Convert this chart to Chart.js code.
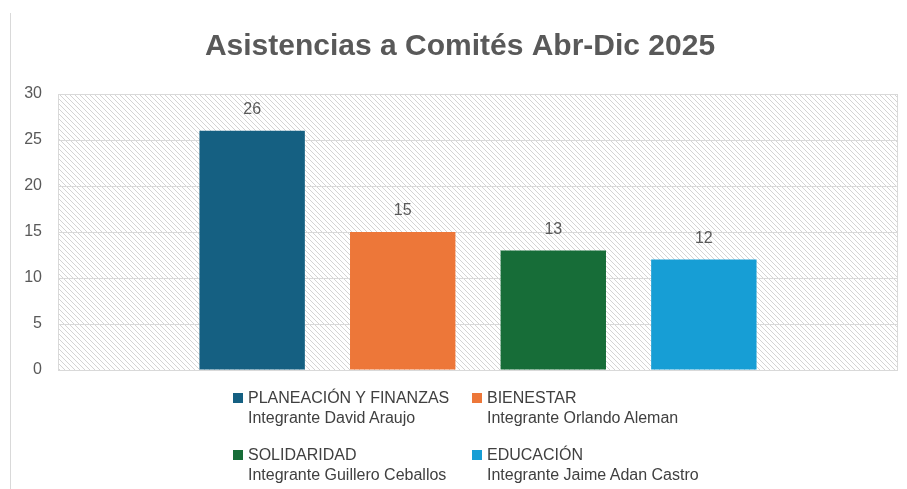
<!DOCTYPE html>
<html>
<head>
<meta charset="utf-8">
<script src="https://cdn.jsdelivr.net/npm/chart.js@4.4.1/dist/chart.umd.min.js"></script>
<style>
    html, body { margin: 0; padding: 0; background: #fff; }
    .wrap { position: relative; width: 907px; height: 489px; }
    .frame { position: absolute; left: 10px; top: 13px; width: 1px; height: 476px; background: #d9d9d9; }
    #legend { position: absolute; left: 233px; top: 388px; font-family: 'Liberation Sans', Arial, sans-serif; font-size: 16px; color: #404040; }
    .item { position: absolute; width: 240px; line-height: 20px; }
    .box { position: absolute; left: 0; top: 5px; width: 10px; height: 10px; }
    .txt { position: absolute; left: 15px; top: 0; white-space: nowrap; }
</style>
</head>
<body>
<div class="wrap">
    <canvas id="barChart" width="907" height="489"></canvas>
    <div class="frame"></div>
    <div id="legend"></div>
</div>
<script>
// Data
const comites = ['PLANEACIÓN Y FINANZAS', 'BIENESTAR', 'SOLIDARIDAD', 'EDUCACIÓN'];
const integrantes = ['Integrante David Araujo', 'Integrante Orlando Aleman', 'Integrante Guillero Ceballos', 'Integrante Jaime Adan Castro'];
const asistencias = [26, 15, 13, 12];
const colores = ['#156082', '#ED7739', '#176D38', '#179ED5'];
const yTicks = [0, 5, 10, 15, 20, 25, 30];

// hatch pattern for the plot area
function makeHatch() {
    const c = document.createElement('canvas');
    c.width = 5; c.height = 5;
    const g = c.getContext('2d');
    g.fillStyle = '#fff';
    g.fillRect(0, 0, 5, 5);
    g.strokeStyle = '#d4d4d4';
    g.lineWidth = 1;
    g.beginPath();
    g.moveTo(-1, -1); g.lineTo(6, 6);
    g.moveTo(-1, 4); g.lineTo(1, 6);
    g.moveTo(4, -1); g.lineTo(6, 1);
    g.stroke();
    return g.createPattern(c, 'repeat');
}

const hatchPlugin = {
    id: 'hatch',
    beforeDraw(chart) {
        const a = chart.chartArea;
        const ctx = chart.ctx;
        ctx.save();
        ctx.fillStyle = makeHatch();
        ctx.fillRect(a.left, a.top, a.right - a.left, a.bottom - a.top);
        ctx.restore();
    },
    afterDatasetsDraw(chart) {
        const a = chart.chartArea;
        const ctx = chart.ctx;
        ctx.save();
        ctx.strokeStyle = '#d9d9d9';
        ctx.lineWidth = 1;
        ctx.strokeRect(a.left + 0.5, a.top + 0.5, a.right - a.left - 1, a.bottom - a.top);
        // value labels
        ctx.font = '16px "Liberation Sans", Arial, sans-serif';
        ctx.fillStyle = '#595959';
        ctx.textAlign = 'center';
        ctx.textBaseline = 'middle';
        chart.data.datasets.forEach((ds, i) => {
            const bar = chart.getDatasetMeta(i).data[0];
            ctx.fillText(ds.data[0], bar.x, bar.y - 21);
        });
        ctx.restore();
    }
};

const datasets = comites.map((c, i) => ({
    label: c,
    data: [asistencias[i]],
    backgroundColor: colores[i],
    categoryPercentage: 0.717,
    barPercentage: 0.7
}));

var barChart = new Chart(document.getElementById('barChart'), {
    type: 'bar',
    data: { labels: [''], datasets: datasets },
    options: {
        responsive: false,
        animation: false,
        layout: { padding: { left: 22, right: 9, top: 0, bottom: 119 } },
        plugins: {
            legend: { display: false },
            tooltip: { enabled: false },
            title: {
                display: true,
                text: 'Asistencias a Comités Abr-Dic 2025',
                color: '#595959',
                font: { family: '"Liberation Sans", Arial, sans-serif', size: 30, weight: 'bold', lineHeight: 1.2 },
                padding: { top: 29, bottom: 29 }
            }
        },
        scales: {
            x: { display: false },
            y: {
                min: 0,
                max: 30,
                afterBuildTicks: (s) => { s.ticks = yTicks.map(v => ({ value: v })); },
                afterFit: (s) => { s.width = 36; },
                border: { display: false },
                grid: { color: '#d9d9d9', drawTicks: false },
                ticks: {
                    padding: 16,
                    color: '#595959',
                    font: { family: '"Liberation Sans", Arial, sans-serif', size: 16 }
                }
            }
        }
    },
    plugins: [hatchPlugin]
});

// legend, two columns
const legend = document.getElementById('legend');
const cols = [0, 239];
const rows = [0, 57];
comites.forEach((c, i) => {
    const el = document.createElement('div');
    el.className = 'item';
    el.style.left = cols[i % 2] + 'px';
    el.style.top = rows[Math.floor(i / 2)] + 'px';
    el.innerHTML = '<span class="box" style="background:' + colores[i] + '"></span>' +
        '<span class="txt">' + c + '<br>' + integrantes[i] + '</span>';
    legend.appendChild(el);
});
</script>
</body>
</html>
